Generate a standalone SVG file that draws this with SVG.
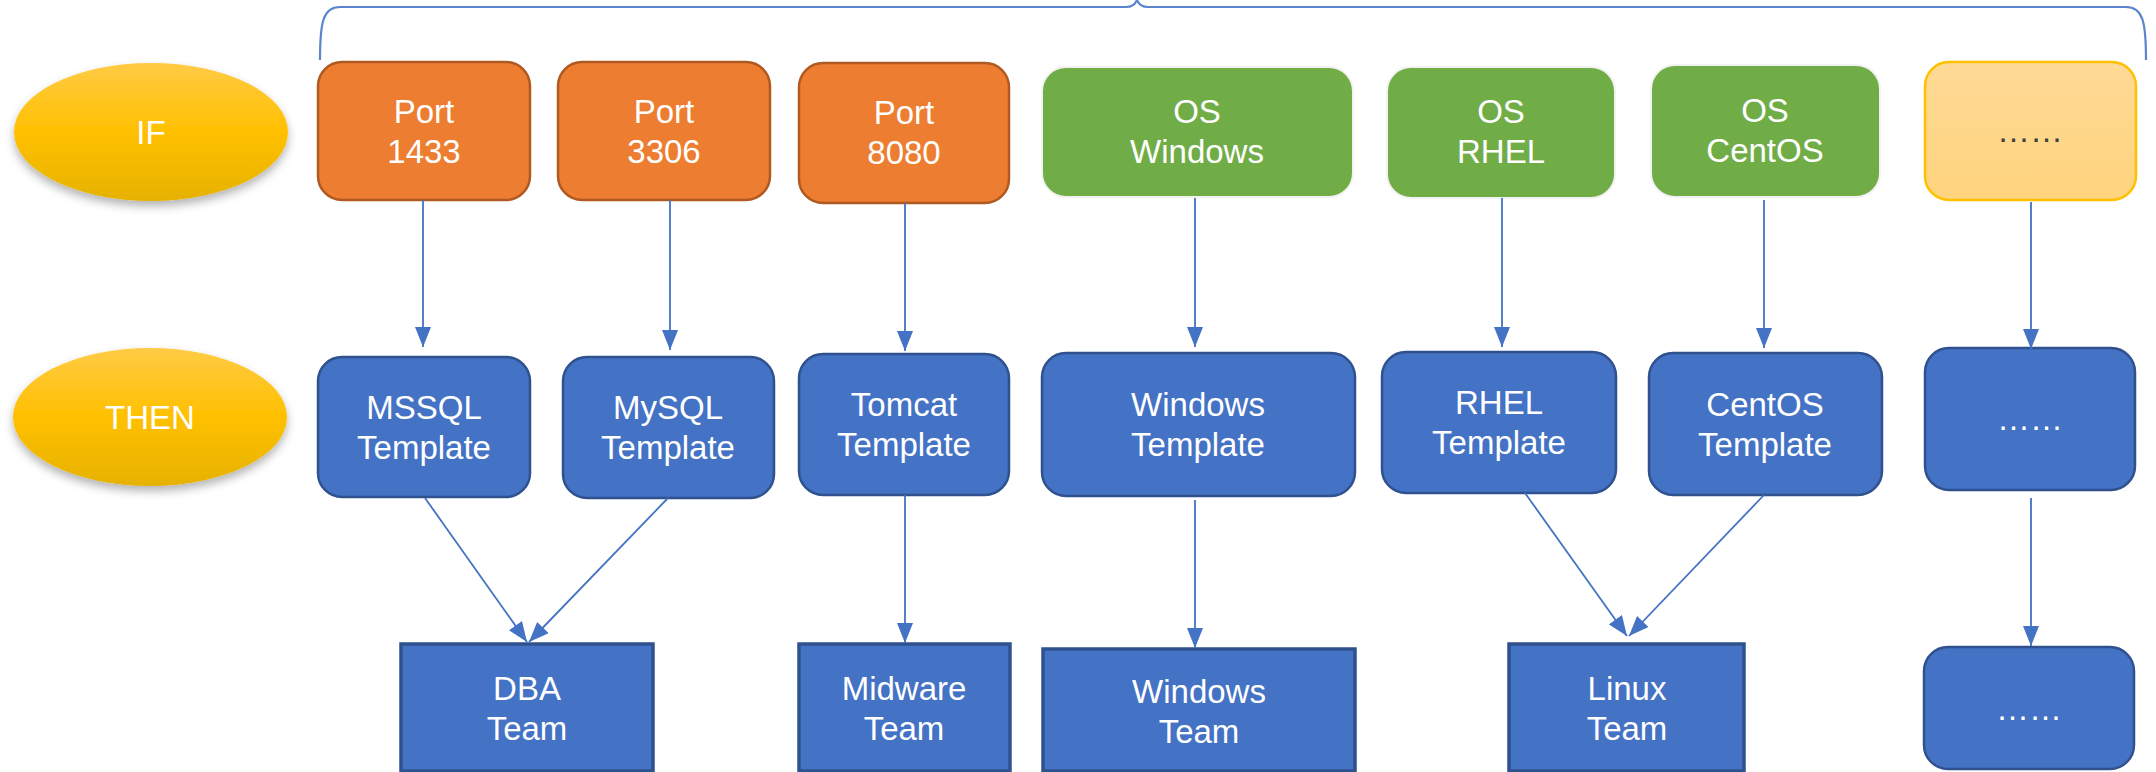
<svg xmlns="http://www.w3.org/2000/svg" width="2156" height="772" viewBox="0 0 2156 772">
<defs>
<linearGradient id="gold" x1="0" y1="0" x2="0" y2="1">
<stop offset="0" stop-color="#FFCB45"/>
<stop offset="0.5" stop-color="#FFC000"/>
<stop offset="1" stop-color="#E6B200"/>
</linearGradient>
<linearGradient id="pale" x1="0" y1="0" x2="0" y2="1">
<stop offset="0" stop-color="#FFDA96"/>
<stop offset="1" stop-color="#FFD47E"/>
</linearGradient>
<filter id="shadow" x="-20%" y="-20%" width="140%" height="150%">
<feDropShadow dx="0" dy="5" stdDeviation="5" flood-color="#000" flood-opacity="0.3"/>
</filter>
<marker id="arr" markerUnits="userSpaceOnUse" markerWidth="20" markerHeight="16" refX="20" refY="8" orient="auto">
<path d="M0,0 L20,8 L0,16 z" fill="#4472C4"/>
</marker>
<style>
.t{font-family:"Liberation Sans",Arial,sans-serif;font-size:33px;fill:#FFFFFF;text-anchor:middle}
.d{font-family:"Liberation Sans",Arial,sans-serif;font-size:33px;fill:#404040;text-anchor:middle}
.orange{fill:#ED7D31;stroke:#AE5A21;stroke-width:2.5}
.green{fill:#70AD47;stroke:#F2F2F2;stroke-width:2}
.yellow{fill:url(#pale);stroke:#FFC000;stroke-width:2.5}
.blue{fill:#4472C4;stroke:#2F528F;stroke-width:2.5}
.team{fill:#4472C4;stroke:#2F528F;stroke-width:3.5}
.ell{fill:url(#gold);filter:url(#shadow)}
.c{stroke:#4472C4;stroke-width:1.8;fill:none;marker-end:url(#arr)}
.brace{stroke:#5B84CF;stroke-width:2.2;fill:none}
</style>
</defs>
<rect width="2156" height="772" fill="#FFFFFF"/>

<path class="brace" d="M320,60 C320,22 323,7 340,7 L1126,7 Q1134,7 1137,0 Q1140,7 1148,7 L2126,7 C2143,7 2146,22 2146,60"/>

<g id="if-label"><ellipse class="ell" cx="151" cy="132" rx="137" ry="69"/><text class="t" x="151" y="144">IF</text></g>
<g id="then-label"><ellipse class="ell" cx="150" cy="417" rx="137" ry="69"/><text class="t" x="150" y="429">THEN</text></g>

<g id="port1433"><rect class="orange" x="318" y="62" width="212" height="138" rx="24"/><text class="t" x="424" y="123">Port</text><text class="t" x="424" y="163">1433</text></g>
<g id="port3306"><rect class="orange" x="558" y="62" width="212" height="138" rx="24"/><text class="t" x="664" y="123">Port</text><text class="t" x="664" y="163">3306</text></g>
<g id="port8080"><rect class="orange" x="799" y="63" width="210" height="140" rx="24"/><text class="t" x="904" y="124">Port</text><text class="t" x="904" y="164">8080</text></g>
<g id="os-windows"><rect class="green" x="1042" y="67" width="311" height="130" rx="24"/><text class="t" x="1197" y="123">OS</text><text class="t" x="1197" y="163">Windows</text></g>
<g id="os-rhel"><rect class="green" x="1387" y="67" width="228" height="131" rx="24"/><text class="t" x="1501" y="123">OS</text><text class="t" x="1501" y="163">RHEL</text></g>
<g id="os-centos"><rect class="green" x="1651" y="65" width="229" height="132" rx="24"/><text class="t" x="1765" y="122">OS</text><text class="t" x="1765" y="162">CentOS</text></g>
<g id="if-more"><rect class="yellow" x="1925" y="62" width="211" height="138" rx="24"/><text class="d" x="2030" y="142">……</text></g>

<g id="mssql-template"><rect class="blue" x="318" y="357" width="212" height="140" rx="24"/><text class="t" x="424" y="419">MSSQL</text><text class="t" x="424" y="459">Template</text></g>
<g id="mysql-template"><rect class="blue" x="563" y="357" width="211" height="141" rx="24"/><text class="t" x="668" y="419">MySQL</text><text class="t" x="668" y="459">Template</text></g>
<g id="tomcat-template"><rect class="blue" x="799" y="354" width="210" height="141" rx="24"/><text class="t" x="904" y="416">Tomcat</text><text class="t" x="904" y="456">Template</text></g>
<g id="windows-template"><rect class="blue" x="1042" y="353" width="313" height="143" rx="24"/><text class="t" x="1198" y="416">Windows</text><text class="t" x="1198" y="456">Template</text></g>
<g id="rhel-template"><rect class="blue" x="1382" y="352" width="234" height="141" rx="24"/><text class="t" x="1499" y="414">RHEL</text><text class="t" x="1499" y="454">Template</text></g>
<g id="centos-template"><rect class="blue" x="1649" y="353" width="233" height="142" rx="24"/><text class="t" x="1765" y="416">CentOS</text><text class="t" x="1765" y="456">Template</text></g>
<g id="then-more"><rect class="blue" x="1925" y="348" width="210" height="142" rx="24"/><text class="t" x="2030" y="430">……</text></g>

<g id="dba-team"><rect class="team" x="401" y="644" width="252" height="127"/><text class="t" x="527" y="700">DBA</text><text class="t" x="527" y="740">Team</text></g>
<g id="midware-team"><rect class="team" x="799" y="644" width="211" height="127"/><text class="t" x="904" y="700">Midware</text><text class="t" x="904" y="740">Team</text></g>
<g id="windows-team"><rect class="team" x="1043" y="649" width="312" height="122"/><text class="t" x="1199" y="703">Windows</text><text class="t" x="1199" y="743">Team</text></g>
<g id="linux-team"><rect class="team" x="1509" y="644" width="235" height="127"/><text class="t" x="1627" y="700">Linux</text><text class="t" x="1627" y="740">Team</text></g>
<g id="team-more"><rect class="blue" x="1924" y="647" width="210" height="122" rx="24"/><text class="t" x="2029" y="720">……</text></g>

<g id="connectors">
<line class="c" x1="423" y1="200" x2="423" y2="347"/>
<line class="c" x1="670" y1="200" x2="670" y2="350"/>
<line class="c" x1="905" y1="203" x2="905" y2="351"/>
<line class="c" x1="1195" y1="198" x2="1195" y2="347"/>
<line class="c" x1="1502" y1="198" x2="1502" y2="347"/>
<line class="c" x1="1764" y1="200" x2="1764" y2="348"/>
<line class="c" x1="2031" y1="202" x2="2031" y2="349"/>
<line class="c" x1="425" y1="498" x2="527" y2="642"/>
<line class="c" x1="668" y1="498" x2="529" y2="642"/>
<line class="c" x1="905" y1="495" x2="905" y2="643"/>
<line class="c" x1="1195" y1="500" x2="1195" y2="648"/>
<line class="c" x1="1525" y1="493" x2="1627" y2="636"/>
<line class="c" x1="1764" y1="495" x2="1629" y2="636"/>
<line class="c" x1="2031" y1="498" x2="2031" y2="646"/>
</g>
</svg>
